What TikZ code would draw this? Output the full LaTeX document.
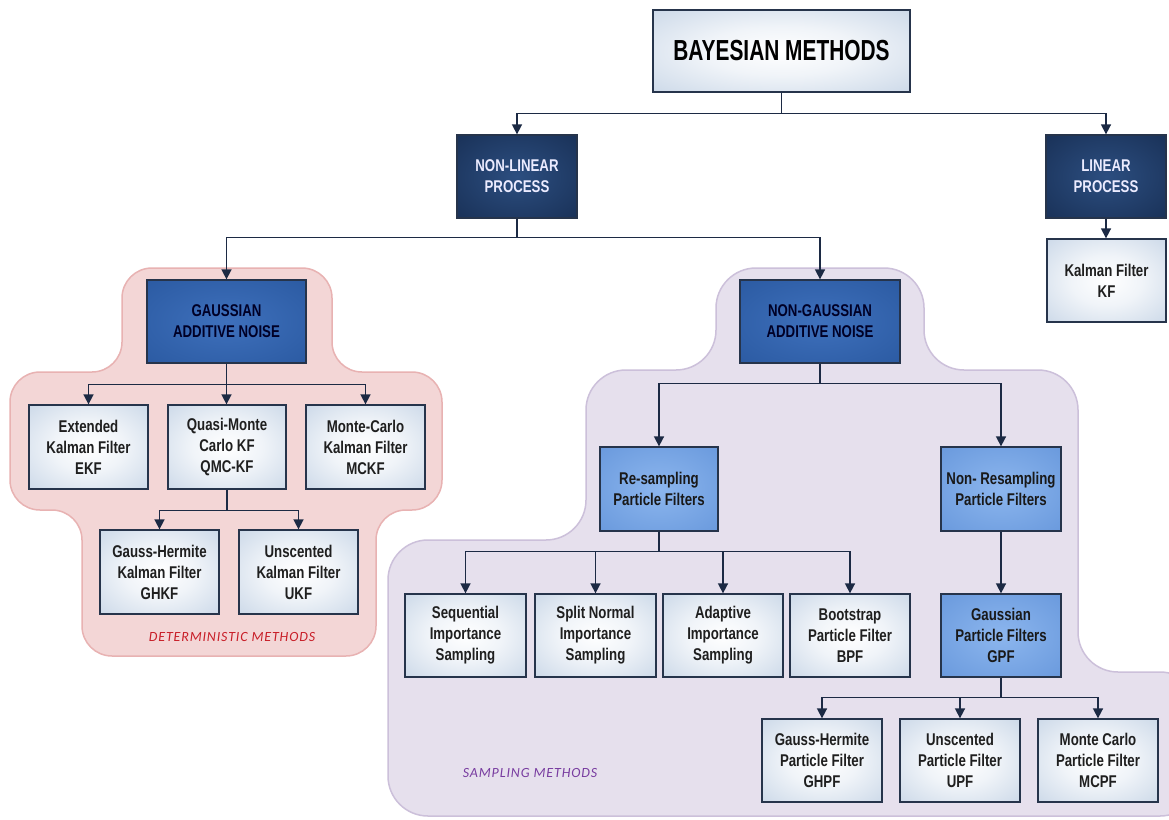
\documentclass[tikz,border=0pt]{standalone}
\usepackage{fontspec}
\setmainfont{Liberation Sans}
\newfontfamily\boxfont{Liberation Sans}[FakeStretch=0.78]
\newfontfamily\titlefont{Liberation Sans}[FakeStretch=0.72]
\newfontfamily\labfont{Carlito}[LetterSpace=6]
\usetikzlibrary{arrows.meta}
\definecolor{boxline}{RGB}{38,52,75}
\definecolor{arrcol}{RGB}{28,42,68}
\definecolor{lightout}{RGB}{180,199,222}
\definecolor{navyin}{RGB}{44,78,128}
\definecolor{navyout}{RGB}{18,38,72}
\definecolor{mbluein}{RGB}{62,112,188}
\definecolor{mblueout}{RGB}{36,82,152}
\definecolor{lbluein}{RGB}{140,182,238}
\definecolor{lblueout}{RGB}{92,142,214}
\definecolor{pinkfill}{RGB}{243,214,214}
\definecolor{pinkline}{RGB}{232,178,178}
\definecolor{purpfill}{RGB}{230,224,237}
\definecolor{purpline}{RGB}{204,192,218}
\definecolor{detred}{RGB}{200,30,40}
\definecolor{samppurp}{RGB}{120,60,160}
\pgfdeclareradialshading{lightsh}{\pgfpoint{0bp}{0bp}}{color(0bp)=(white); color(15bp)=(white!80!lightout); color(50bp)=(lightout)}
\pgfdeclareradialshading{navysh}{\pgfpoint{0bp}{0bp}}{color(0bp)=(navyin); color(50bp)=(navyout)}
\pgfdeclareradialshading{mbluesh}{\pgfpoint{0bp}{0bp}}{color(0bp)=(mbluein); color(50bp)=(mblueout)}
\pgfdeclareradialshading{lbluesh}{\pgfpoint{0bp}{0bp}}{color(0bp)=(lbluein); color(50bp)=(lblueout)}
\begin{document}
\begin{tikzpicture}[x=1pt,y=-1pt,
  box/.style={draw=boxline, line width=1.3pt, inner sep=2pt, align=center,
    font=\boxfont\bfseries\fontsize{17}{21}\selectfont, shade},
  lightbox/.style={box, shading=lightsh, text=black!88, minimum width=119pt, minimum height=83pt},
  navybox/.style={box, shading=navysh, text=white!92!blue, minimum width=120pt, minimum height=83pt},
  mbox/.style={box, shading=mbluesh, text=black!85!blue, minimum width=159pt, minimum height=83pt},
  lbbox/.style={box, shading=lbluesh, text=black!90, minimum width=119pt, minimum height=84pt},
  conn/.style={draw=arrcol, line width=1.6pt, -{Triangle[length=10pt,width=10pt]}},
  region/.style={line width=1.5pt},
  lab/.style={font=\labfont\itshape\fontsize{14}{16}\selectfont}
]
\useasboundingbox (0,0) rectangle (1169,819);
\clip (0,0) rectangle (1169,819);
\fill[white] (0,0) rectangle (1169,819);

% regions
\draw[region, rounded corners=30pt, fill=pinkfill, draw=pinkline]
  (122,268) -- (332,268) -- (332,372) -- (442,372) -- (442,510) -- (376,510)
  -- (376,656) -- (82,656) -- (82,510) -- (10,510) -- (10,372) -- (122,372) -- cycle;
\draw[region, rounded corners=40pt, fill=purpfill, draw=purpline]
  (716,268) -- (924,268) -- (924,370) -- (1078,370) -- (1078,672) -- (1200,672)
  -- (1200,816) -- (388,816) -- (388,540) -- (586,540) -- (586,370) -- (716,370) -- cycle;

% nodes
\node[box, shading=lightsh, minimum width=257pt, minimum height=82pt,
  font=\titlefont\bfseries\fontsize{29}{32}\selectfont, text=black] (bayes) at (781.5,51) {BAYESIAN METHODS};
\node[navybox] (nonlin) at (517,176.5) {NON-LINEAR\\PROCESS};
\node[navybox] (lin) at (1106,176.5) {LINEAR\\PROCESS};
\node[lightbox] (kf) at (1106.5,280.5) {Kalman Filter\\KF};
\node[mbox] (gauss) at (226.5,321.5) {GAUSSIAN\\ADDITIVE NOISE};
\node[mbox, minimum width=160pt] (nongauss) at (820,321.5) {NON-GAUSSIAN\\ADDITIVE NOISE};
\node[lightbox, minimum height=84pt] (ekf) at (88.5,447) {Extended\\Kalman Filter\\EKF};
\node[lightbox, minimum width=118pt, minimum height=84pt] (qmc) at (227,447) {Quasi-Monte\\Carlo KF\\QMC-KF};
\node[lightbox, minimum height=84pt] (mckf) at (365.5,447) {Monte-Carlo\\Kalman Filter\\MCKF};
\node[lightbox, minimum height=84pt] (ghkf) at (159.5,572) {Gauss-Hermite\\Kalman Filter\\GHKF};
\node[lightbox, minimum height=84pt] (ukf) at (298.5,572) {Unscented\\Kalman Filter\\UKF};
\node[lbbox, minimum width=118pt] (resamp) at (659,489) {Re-sampling\\Particle Filters};
\node[lbbox, minimum width=120pt] (nonresamp) at (1001,489) {Non- Resampling\\Particle Filters};
\node[lightbox, minimum width=121pt] (sis) at (465.5,635.5) {Sequential\\Importance\\Sampling};
\node[lightbox, minimum width=121pt] (sn) at (595.5,635.5) {Split Normal\\Importance\\Sampling};
\node[lightbox, minimum width=120pt] (ais) at (723,635.5) {Adaptive\\Importance\\Sampling};
\node[lightbox, minimum width=120pt] (bpf) at (850,635.5) {Bootstrap\\Particle Filter\\BPF};
\node[lbbox, minimum width=120pt, minimum height=83pt] (gpf) at (1001,635.5) {Gaussian\\Particle Filters\\GPF};
\node[lightbox, minimum width=120pt] (ghpf) at (822,760.5) {Gauss-Hermite\\Particle Filter\\GHPF};
\node[lightbox, minimum width=120pt] (upf) at (960,760.5) {Unscented\\Particle Filter\\UPF};
\node[lightbox, minimum width=120pt] (mcpf) at (1098,760.5) {Monte Carlo\\Particle Filter\\MCPF};

\node[lab, text=detred] (det) at (232,637) {DETERMINISTIC METHODS};
\node[lab, text=samppurp] (samp) at (530,773) {SAMPLING METHODS};

% connectors
\draw[conn] (bayes.south) -- ++(0,21) -| (nonlin.north);
\draw[conn] (bayes.south) -- ++(0,21) -| (lin.north);
\draw[conn] (nonlin.south) -- ++(0,19) -| (gauss.north);
\draw[conn] (nonlin.south) -- ++(0,19) -| (nongauss.north);
\draw[conn] (lin.south) -- (lin.south |- kf.north);
\draw[conn] (gauss.south) -- ++(0,21) -| (ekf.north);
\draw[conn] (gauss.south) -- (gauss.south |- qmc.north);
\draw[conn] (gauss.south) -- ++(0,21) -| (mckf.north);
\draw[conn] (qmc.south) -- ++(0,21) -| (ghkf.north);
\draw[conn] (qmc.south) -- ++(0,21) -| (ukf.north);
\draw[conn] (nongauss.south) -- ++(0,20) -| (resamp.north);
\draw[conn] (nongauss.south) -- ++(0,20) -| (nonresamp.north);
\draw[conn] (resamp.south) -- ++(0,20) -| (sis.north);
\draw[conn] (resamp.south) -- ++(0,20) -| (sn.north);
\draw[conn] (resamp.south) -- ++(0,20) -| (ais.north);
\draw[conn] (resamp.south) -- ++(0,20) -| (bpf.north);
\draw[conn] (nonresamp.south) -- (nonresamp.south |- gpf.north);
\draw[conn] (gpf.south) -- ++(0,20) -| (ghpf.north);
\draw[conn] (gpf.south) -- ++(0,20) -| (upf.north);
\draw[conn] (gpf.south) -- ++(0,20) -| (mcpf.north);
\end{tikzpicture}
\end{document}
